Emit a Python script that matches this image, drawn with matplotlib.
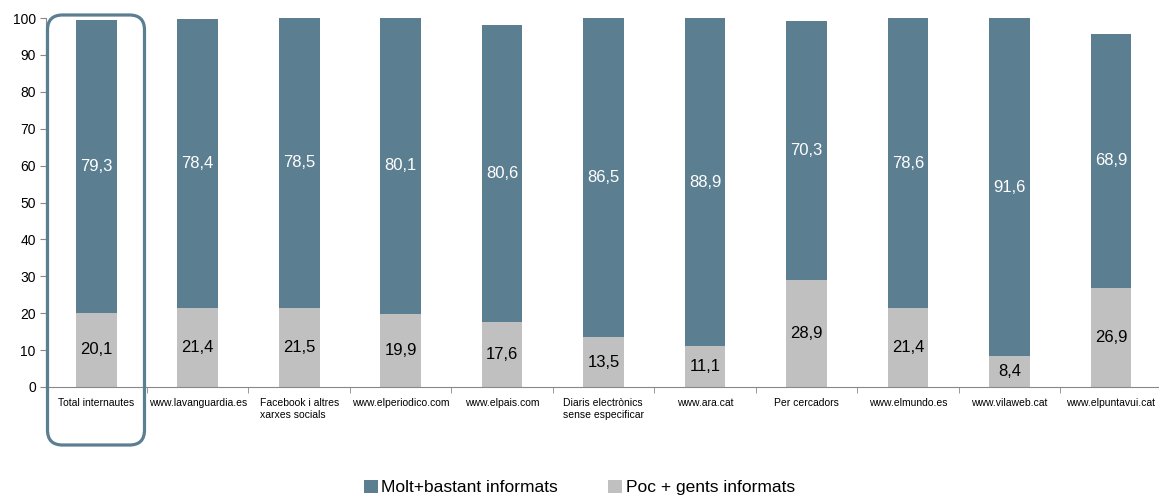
import matplotlib
matplotlib.use("Agg")
import matplotlib.pyplot as plt
import numpy as np
from matplotlib.patches import FancyBboxPatch

plt.rcParams['font.family'] = ['Liberation Sans', 'DejaVu Sans']

categories = ["Total internautes", "www.lavanguardia.es", "Facebook i altres\nxarxes socials",
              "www.elperiodico.com", "www.elpais.com", "Diaris electrònics\nsense especificar",
              "www.ara.cat", "Per cercadors", "www.elmundo.es", "www.vilaweb.cat",
              "www.elpuntavui.cat"]
poc = [20.1, 21.4, 21.5, 19.9, 17.6, 13.5, 11.1, 28.9, 21.4, 8.4, 26.9]
molt = [79.3, 78.4, 78.5, 80.1, 80.6, 86.5, 88.9, 70.3, 78.6, 91.6, 68.9]

dark = "#5B7E91"
grey = "#C0C0C0"


def fmt(v):
    return f"{v:.1f}".replace(".", ",")


def main():
    fig = plt.figure(figsize=(11.59, 4.95), dpi=100)
    ax = fig.add_axes([0.0393, 0.2182, 0.963, 0.7454])

    x = np.arange(len(categories))
    ax.bar(x, poc, width=0.4, color=grey, label="Poc + gents informats")
    ax.bar(x, molt, width=0.4, bottom=poc, color=dark, label="Molt+bastant informats")

    for i in range(len(categories)):
        ax.text(x[i], poc[i] / 2, fmt(poc[i]), ha='center', va='center', fontsize=12, color='black')
        ax.text(x[i], poc[i] + molt[i] / 2, fmt(molt[i]), ha='center', va='center',
                fontsize=12, color='white')

    ax.set_xlim(-0.5, 10.5)
    ax.set_ylim(0, 100)
    ax.set_yticks(range(0, 101, 10))
    ax.tick_params(axis='y', labelsize=10, length=4, color='#888888', pad=3)

    ax.set_xticks(x)
    ax.set_xticklabels(categories, fontsize=7.5, va='top', ha='center')
    ax.set_xticks(np.arange(-0.5, 11, 1), minor=True)
    ax.tick_params(axis='x', which='major', length=0, pad=8)
    ax.tick_params(axis='x', which='minor', length=4, color='#888888')
    for lbl in ax.get_xticklabels():
        lbl.set_multialignment('left')

    for s in ['top', 'right']:
        ax.spines[s].set_visible(False)
    for s in ['left', 'bottom']:
        ax.spines[s].set_color('#888888')
        ax.spines[s].set_linewidth(0.8)

    handles, labels = ax.get_legend_handles_labels()
    fig.legend(handles[::-1], labels[::-1], loc='lower center', bbox_to_anchor=(0.5, -0.032),
               ncol=2, frameon=False, fontsize=12.5, handlelength=0.8, handleheight=0.8,
               handletextpad=0.2, columnspacing=2.9)

    box = FancyBboxPatch((0.475, 0.50), 0.97, 4.30, boxstyle="round,pad=0,rounding_size=0.15",
                         transform=fig.dpi_scale_trans, fill=False, edgecolor=dark,
                         linewidth=2.3, clip_on=False)
    fig.patches.append(box)

    fig.savefig("out.png", dpi=100)


if __name__ == "__main__":
    main()
